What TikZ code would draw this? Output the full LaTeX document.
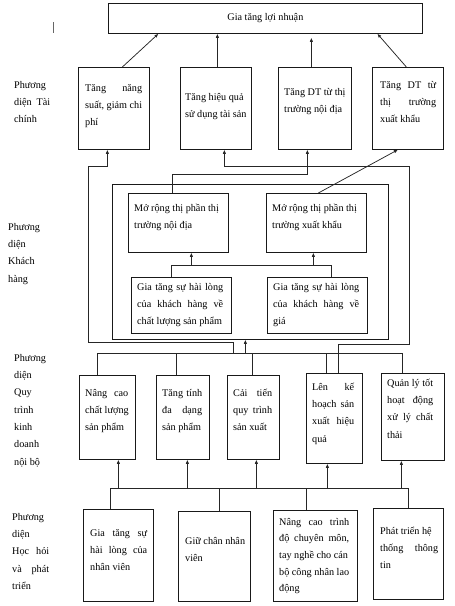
\documentclass[tikz,border=0pt]{standalone}
\usepackage{fontspec}
\setmainfont{Liberation Serif}
\usetikzlibrary{arrows.meta}
\newcommand{\J}[2]{\hbox to #1pt{#2}}
\newcommand{\mystrut}{\rule{0pt}{11pt}}
\begin{document}
\begin{tikzpicture}[x=1pt,y=-1pt,
  box/.style={draw=black!90, line width=0.75pt, inner sep=0pt, anchor=north west},
  txt/.style={anchor=north west, inner sep=0pt, align=left, font=\fontsize{10.2}{17.3}\selectfont},
  conn/.style={draw=black!85, line width=0.75pt},
  arr/.style={conn, -{Latex[length=4pt,width=3.4pt]}}]
\useasboundingbox (0,0) rectangle (455,606);

% stray mark
\draw[conn, line width=0.8pt, black!60] (53,22) -- (53,33);

% title
\node[box, minimum width=314pt, minimum height=30pt, font=\fontsize{10.2}{12}\selectfont] (T) at (108,3) {Gia tăng lợi nhuận};

% financial
\node[box, minimum width=71pt, minimum height=82pt] (F1) at (78,67) {};
\node[box, minimum width=71pt, minimum height=82pt] (F2) at (180,67) {};
\node[box, minimum width=73pt, minimum height=82pt] (F3) at (278,67) {};
\node[box, minimum width=71pt, minimum height=82pt] (F4) at (372,67) {};
\node[txt] (F1t) at (85,80) {\mystrut\J{57}{Tăng\hfill năng}\\suất, giảm chi\\phí};
\node[txt] (F2t) at (185,89) {\mystrut Tăng hiệu quả\\sử dụng tài sản};
\node[txt] (F3t) at (284,84) {\mystrut Tăng DT từ thị\\trường nội địa};
\node[txt] (F4t) at (380,77) {\mystrut\J{56}{Tăng\hfill DT\hfill từ}\\\J{56}{thị\hfill trường}\\xuất khẩu};
\node[txt] (Lab1) at (14,77) {\mystrut Phương\\\J{36}{diện\hfill Tài}\\chính};

% customer
\node[box, minimum width=276pt, minimum height=155pt] (O) at (112,184) {};
\node[box, minimum width=100pt, minimum height=59pt] (K1) at (128,193) {};
\node[box, minimum width=100pt, minimum height=59pt] (K2) at (266,193) {};
\node[box, minimum width=100pt, minimum height=56pt] (K3) at (131,277) {};
\node[box, minimum width=100pt, minimum height=56pt] (K4) at (267,277) {};
\node[txt] (K1t) at (134,200) {\mystrut Mở rộng thị phần thị\\trường nội địa};
\node[txt] (K2t) at (272,200) {\mystrut Mở rộng thị phần thị\\trường xuất khẩu};
\node[txt] (K3t) at (137,279) {\mystrut\J{86}{Gia\hfill tăng\hfill sự\hfill hài\hfill lòng}\\\J{86}{của\hfill khách\hfill hàng\hfill về}\\chất lượng sản phẩm};
\node[txt] (K4t) at (273,279) {\mystrut\J{86}{Gia\hfill tăng\hfill sự\hfill hài\hfill lòng}\\\J{86}{của\hfill khách\hfill hàng\hfill về}\\giá};
\node[txt] (Lab2) at (8,219) {\mystrut Phương\\diện\\Khách\\hàng};

% internal process
\node[box, minimum width=56pt, minimum height=84pt] (Q1) at (79,375) {};
\node[box, minimum width=53pt, minimum height=84pt] (Q2) at (156,375) {};
\node[box, minimum width=52pt, minimum height=84pt] (Q3) at (227,375) {};
\node[box, minimum width=56pt, minimum height=90pt] (Q4) at (306,373) {};
\node[box, minimum width=63pt, minimum height=87pt] (Q5) at (381,373) {};
\node[txt] (Q1t) at (85,385) {\mystrut\J{43}{Nâng\hfill cao}\\chất lượng\\sản phẩm};
\node[txt] (Q2t) at (162,385) {\mystrut\J{40}{Tăng\hfill tính}\\\J{40}{đa\hfill dạng}\\sản phẩm};
\node[txt] (Q3t) at (233,385) {\mystrut\J{39}{Cải\hfill tiến}\\\J{39}{quy\hfill trình}\\sản xuất};
\node[txt] (Q4t) at (312,379) {\mystrut\J{42}{Lên\hfill kế}\\\J{42}{hoạch\hfill sản}\\\J{42}{xuất\hfill hiệu}\\quả};
\node[txt] (Q5t) at (387,375) {\mystrut Quản lý tốt\\\J{46}{hoạt\hfill động}\\\J{46}{xử\hfill lý\hfill chất}\\thải};
\node[txt] (Lab3) at (14,350) {\mystrut Phương\\diện\\Quy\\trình\\kinh\\doanh\\nội bộ};

% learning
\node[box, minimum width=70pt, minimum height=92pt] (L1) at (83,509) {};
\node[box, minimum width=72pt, minimum height=90pt] (L2) at (178,511) {};
\node[box, minimum width=84pt, minimum height=91pt] (L3) at (273,510) {};
\node[box, minimum width=70pt, minimum height=91pt] (L4) at (373,508) {};
\node[txt] (L1t) at (90,525) {\mystrut\J{57}{Gia\hfill tăng\hfill sự}\\\J{57}{hài\hfill lòng\hfill của}\\nhân viên};
\node[txt] (L2t) at (185,533) {\mystrut Giữ chân nhân\\viên};
\node[txt, font=\fontsize{10.2}{16.6}\selectfont] (L3t) at (279,514) {\mystrut\J{70}{Nâng\hfill cao\hfill trình}\\\J{70}{độ\hfill chuyên\hfill môn,}\\tay nghề cho cán\\bộ công nhân lao\\động};
\node[txt] (L4t) at (380,523) {\mystrut Phát triển hệ\\\J{58}{thống\hfill thông}\\tin};
\node[txt] (Lab4) at (12,509) {\mystrut Phương\\diện\\\J{37}{Học\hfill hỏi}\\\J{37}{và\hfill phát}\\triển};

% financial -> title
\draw[arr] ([xshift=8.5pt]F1.north) -- ([xshift=-107pt]T.south);
\draw[arr] ([xshift=1.5pt]F2.north) -- ([xshift=-48pt]T.south);
\draw[arr] ([xshift=-3.5pt]F3.north) -- ([xshift=46pt,yshift=-4pt]T.south);
\draw[arr] ([xshift=-1.5pt]F4.north) -- ([xshift=112pt]T.south);

% customer -> financial
\draw[arr] ([xshift=2pt]K2.north) -- ([xshift=-10pt]F4.south);
\draw[arr] ([xshift=-6pt]K1.north) -- ++(0pt,19pt) -| ([xshift=-7.5pt]F3.south);
\draw[conn] ([xshift=-10pt]K3.north) -- ++(0pt,12pt) -| ([xshift=14pt]K4.north);
\draw[arr] ([xshift=13pt,yshift=-13pt]K1.south) -- ([xshift=13pt]K1.south);
\draw[arr] ([xshift=-3pt,yshift=-13pt]K2.south) -- ([xshift=-3pt]K2.south);

% internal bus -> customer / financial
\draw[conn] ([xshift=-10pt]Q1.north) -- ++(0pt,22pt) -| ([xshift=-10.5pt]Q5.north);
\draw[conn] ([xshift=-6.5pt]Q2.north) -- ++(0pt,22pt);
\draw[conn] ([xshift=-1pt]Q3.north) -- ++(0pt,22pt);
\draw[conn] ([xshift=-8pt]Q4.north) -- ++(0pt,20pt);
\draw[arr] ([xshift=-5pt,yshift=-14pt]O.south) -- ([xshift=-5pt]O.south);
\draw[arr] ([xshift=-17pt,yshift=-14pt]O.south) -- ++(0pt,11pt) -- ++(-145pt,0pt) -- ++(0pt,176pt) -| ([xshift=-6.5pt]F1.south);
\draw[arr] ([xshift=4pt]Q4.north) -- ++(0pt,29pt) -- ++(71pt,0pt) -- ++(0pt,178pt) -| ([xshift=8.5pt]F2.south);

% learning bus -> internal
\draw[conn] ([xshift=-8pt]L1.north) -- ++(0pt,21pt) -| (L4.north);
\draw[conn] ([xshift=5pt]L2.north) -- ++(0pt,23pt);
\draw[conn] ([xshift=-9pt]L3.north) -- ++(0pt,22pt);
\draw[arr] ([xshift=11pt,yshift=-29pt]Q1.south) -- ([xshift=11pt]Q1.south);
\draw[arr] ([xshift=4.5pt,yshift=-29pt]Q2.south) -- ([xshift=4.5pt]Q2.south);
\draw[arr] ([xshift=3pt,yshift=-29pt]Q3.south) -- ([xshift=3pt]Q3.south);
\draw[arr] ([xshift=-7pt,yshift=-25pt]Q4.south) -- ([xshift=-7pt]Q4.south);
\draw[arr] ([xshift=-11.5pt,yshift=-28pt]Q5.south) -- ([xshift=-11.5pt]Q5.south);
\end{tikzpicture}
\end{document}
